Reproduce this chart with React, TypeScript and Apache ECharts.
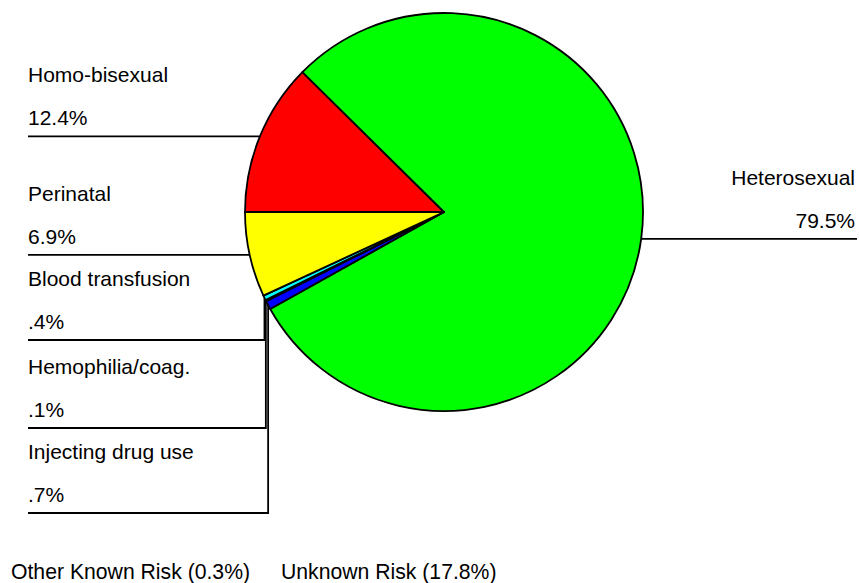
import React, { useEffect, useRef } from 'react';
import * as echarts from 'echarts';

// Data (order: clockwise from 9 o'clock)
const categories = ['Homo-bisexual', 'Heterosexual', 'Injecting drug use', 'Hemophilia/coag.', 'Blood transfusion', 'Perinatal'];
const values = [12.4, 79.5, 0.7, 0.1, 0.4, 6.9];
const colors = ['#ff0000', '#00ff00', '#0000ff', '#ff00ff', '#00ffff', '#ffff00'];
const footnotes = ['Other Known Risk (0.3%)', 'Unknown Risk (17.8%)'];

// Layout
const CX = 444;
const CY = 212;
const R = 199;
const START = 180;
const leaderY: (number | null)[] = [null, null, 513, 428, 340, null];
const rightSide = [false, true, false, false, false, false];
const FONT = 'Liberation Sans, Arial, sans-serif';
const FS = 21;

const fmt = (v: number) => v.toFixed(1).replace(/^0/, '') + '%';

export default function App() {
  const ref = useRef<HTMLDivElement>(null);
  useEffect(() => {
    if (!ref.current) return;
    const chart = echarts.init(ref.current, null, { renderer: 'svg' });
    const total = values.reduce((a, b) => a + b, 0);
    let acc = 0;
    const edges = values.map((v) => {
      const mid = acc + v / 2;
      acc += v;
      const ang = ((START - (mid / total) * 360) * Math.PI) / 180;
      return [CX + R * Math.cos(ang), CY - R * Math.sin(ang)];
    });
    chart.setOption({
      animation: false,
      backgroundColor: '#ffffff',
      graphic: footnotes.map((t, i) => ({
        type: 'text',
        left: i === 0 ? 11 : 281,
        top: 561,
        style: { text: t, fill: '#000', font: `21.2px ${FONT}` },
      })),
      series: [
        {
          type: 'pie',
          center: [CX, CY],
          radius: R,
          startAngle: START,
          clockwise: true,
          avoidLabelOverlap: false,
          silent: true,
          data: categories.map((name, i) => ({
            name,
            value: values[i],
            itemStyle: { color: colors[i] },
          })),
          itemStyle: { borderColor: '#000', borderWidth: 1.8 },
          emphasis: { disabled: true },
          label: {
            show: true,
            position: 'outside',
            formatter: (p: any) => `{n|${p.name}}\n{p|${fmt(p.value)}}`,
            rich: {
              n: { fontSize: FS, lineHeight: 43, color: '#000', fontFamily: FONT },
              p: { fontSize: FS, lineHeight: 43, color: '#000', fontFamily: FONT },
            },
          },
          labelLine: {
            show: true,
            length: 5,
            length2: 5,
            smooth: false,
            lineStyle: { color: '#000', width: 1.8 },
          },
          labelLayout: (params: any) => {
            const i = params.dataIndex;
            const [ex, ey] = edges[i];
            if (rightSide[i]) {
              return {
                x: 855,
                y: ey - 40,
                align: 'right',
                verticalAlign: 'middle',
                labelLinePoints: [[ex, ey], [ex, ey], [857, ey]],
              };
            }
            const ly = leaderY[i];
            if (ly == null) {
              return {
                x: 28,
                y: ey - 40,
                align: 'left',
                verticalAlign: 'middle',
                labelLinePoints: [[ex, ey], [ex, ey], [28, ey]],
              };
            }
            return {
              x: 28,
              y: ly - 40,
              align: 'left',
              verticalAlign: 'middle',
              labelLinePoints: [[ex, ey], [ex, ly], [28, ly]],
            };
          },
        },
      ],
    });
    return () => chart.dispose();
  }, []);
  return (
    <div
      ref={ref}
      style={{ position: 'absolute', left: 0, top: 0, width: 860, height: 583 }}
    />
  );
}
